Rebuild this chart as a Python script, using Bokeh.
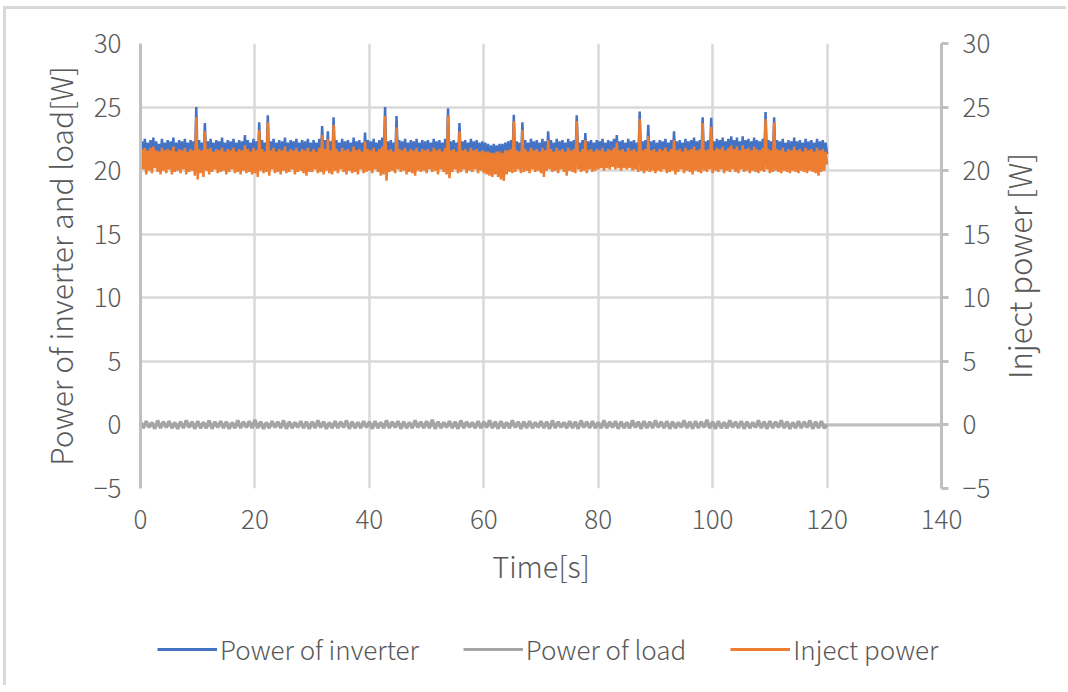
import math
from bokeh.plotting import figure
from bokeh.layouts import column, row
from bokeh.models import Range1d, LinearAxis, FixedTicker, Span, Legend, LegendItem, Label
from bokeh.embed import file_html
from bokeh.resources import INLINE

inverter = [
    20.8, 22.3, 20.5, 22.5, 21.0, 22.2, 20.6, 22.4, 20.9, 22.6, 20.4, 22.3, 20.7, 22.1, 21.1, 22.5, 20.5, 22.2, 20.8, 22.4,
    20.6, 22.3, 20.9, 22.6, 20.4, 22.2, 20.7, 22.4, 21.0, 22.3, 20.5, 22.5, 20.8, 22.2, 20.6, 22.4, 20.9, 22.3, 20.5, 25.0,
    20.3, 22.4, 20.7, 22.2, 20.6, 23.75, 20.9, 22.3, 20.5, 22.5, 20.8, 22.2, 20.4, 22.4, 21.0, 22.3, 20.6, 22.6, 20.7, 22.2,
    20.5, 22.4, 20.9, 22.3, 20.6, 22.5, 20.4, 22.2, 20.8, 22.4, 20.6, 22.3, 20.7, 22.8, 20.5, 22.4, 20.9, 22.2, 20.6, 22.5,
    20.5, 22.3, 20.4, 23.8, 20.7, 22.4, 20.8, 22.2, 20.6, 24.35, 20.5, 22.3, 20.9, 22.5, 20.6, 22.2, 20.7, 22.4, 20.4, 22.3,
    20.8, 22.6, 20.5, 22.2, 20.7, 22.4, 20.9, 22.3, 20.6, 22.5, 20.5, 22.2, 20.8, 22.4, 20.6, 22.3, 20.4, 22.5, 20.7, 22.2,
    20.6, 22.4, 20.8, 22.2, 20.5, 22.5, 20.7, 23.5, 20.6, 22.4, 20.9, 23.1, 20.5, 22.3, 20.6, 24.2, 20.7, 22.4, 20.5, 22.2,
    20.8, 22.5, 20.6, 22.3, 20.4, 22.4, 20.9, 22.2, 20.6, 22.6, 20.7, 22.3, 20.5, 22.4, 20.8, 22.2, 20.6, 23.0, 20.5, 22.4,
    20.7, 22.3, 20.5, 22.5, 20.8, 22.2, 20.6, 22.4, 20.4, 22.6, 20.5, 25.0, 20.2, 22.3, 20.7, 22.4, 20.6, 22.2, 20.5, 24.3,
    20.8, 22.4, 20.6, 22.3, 20.9, 22.5, 20.5, 22.2, 20.7, 22.4, 20.6, 22.3, 20.4, 22.5, 20.8, 22.2, 20.6, 22.4, 20.7, 22.3,
    20.5, 22.4, 20.8, 22.2, 20.6, 22.5, 20.7, 22.3, 20.4, 22.4, 20.9, 22.2, 20.6, 22.5, 20.5, 24.9, 20.7, 22.3, 20.6, 22.4,
    20.8, 22.2, 20.5, 23.75, 20.6, 22.3, 20.9, 22.4, 20.5, 22.2, 20.7, 22.5, 20.6, 22.3, 20.8, 22.4, 20.5, 22.2, 20.7, 22.3,
    20.5, 22.2, 20.4, 22.1, 20.3, 22.0, 20.2, 22.1, 20.4, 22.0, 20.3, 22.1, 20.5, 22.1, 20.6, 22.2, 20.5, 22.3, 20.7, 22.4,
    20.6, 24.4, 20.5, 22.3, 20.8, 22.2, 20.6, 23.8, 20.5, 22.4, 20.7, 22.2, 20.6, 22.5, 20.8, 22.3, 20.5, 22.4, 20.7, 22.2,
    20.4, 22.5, 20.6, 22.3, 20.5, 23.1, 20.8, 22.4, 20.6, 22.2, 20.7, 22.5, 20.5, 22.3, 20.9, 22.4, 20.6, 22.2, 20.5, 22.5,
    20.7, 22.3, 20.6, 22.4, 20.5, 24.35, 20.8, 22.2, 20.6, 22.4, 20.7, 22.95, 20.5, 22.3, 20.8, 22.4, 20.6, 22.2, 20.7, 22.4,
    20.6, 22.3, 20.8, 22.5, 20.5, 22.2, 20.7, 22.4, 20.6, 22.3, 20.9, 22.5, 20.7, 22.8, 20.6, 22.3, 20.8, 22.4, 20.5, 22.2,
    20.7, 22.5, 20.6, 22.3, 20.8, 22.4, 20.5, 22.2, 20.6, 24.65, 20.7, 22.3, 20.5, 22.4, 20.8, 23.6, 20.6, 22.3, 20.7, 22.4,
    20.5, 22.2, 20.8, 22.4, 20.6, 22.3, 20.7, 22.5, 20.5, 22.2, 20.9, 22.4, 20.6, 23.1, 20.7, 22.3, 20.5, 22.4, 20.8, 22.2,
    20.6, 22.5, 20.7, 22.3, 20.5, 22.4, 20.8, 22.6, 20.6, 22.3, 20.7, 22.4, 20.5, 24.2, 20.6, 22.3, 20.8, 22.4, 20.6, 24.15,
    20.5, 22.3, 20.8, 22.5, 20.6, 22.4, 20.7, 22.6, 20.5, 22.3, 20.9, 22.5, 20.6, 22.7, 20.8, 22.4, 20.7, 22.6, 20.5, 22.3,
    20.8, 22.7, 20.6, 22.4, 20.7, 22.5, 20.5, 22.3, 20.8, 22.6, 20.6, 22.4, 20.7, 22.3, 20.5, 22.5, 20.6, 24.6, 20.8, 22.4,
    20.6, 22.3, 20.5, 24.2, 20.7, 22.4, 20.6, 22.3, 20.8, 22.5, 20.5, 22.2, 20.7, 22.4, 20.6, 22.3, 20.8, 22.6, 20.5, 22.3,
    20.7, 22.4, 20.6, 22.2, 20.8, 22.5, 20.5, 22.3, 20.7, 22.4, 20.6, 22.2, 20.8, 22.5, 20.5, 22.3, 20.6, 22.4, 20.7, 22.2,
    21.3,
]
inject = [
    19.9, 21.7, 20.1, 21.8, 19.7, 21.6, 20.0, 21.8, 19.8, 21.9, 20.2, 21.6, 19.9, 21.5, 19.7, 21.8, 20.0, 21.6, 19.8, 21.7,
    20.1, 21.6, 19.7, 21.9, 19.9, 21.5, 20.0, 21.7, 19.8, 21.6, 20.1, 21.8, 19.7, 21.5, 19.9, 21.7, 20.0, 21.6, 19.6, 24.2,
    19.3, 21.7, 19.8, 21.6, 19.5, 23.1, 20.0, 21.7, 19.7, 21.8, 19.9, 21.5, 20.1, 21.7, 19.8, 21.6, 19.9, 21.8, 20.0, 21.5,
    19.7, 21.7, 19.9, 21.6, 20.1, 21.8, 19.8, 21.5, 19.9, 21.7, 19.7, 21.6, 20.0, 22.0, 19.8, 21.7, 19.9, 21.5, 19.7, 21.8,
    19.8, 21.6, 19.5, 23.2, 20.0, 21.7, 19.8, 21.5, 19.9, 23.8, 19.6, 21.6, 20.1, 21.8, 19.8, 21.5, 19.9, 21.7, 19.7, 21.6,
    20.0, 21.9, 19.8, 21.5, 19.9, 21.7, 20.1, 21.6, 19.7, 21.8, 19.9, 21.5, 20.0, 21.7, 19.8, 21.6, 19.6, 21.8, 19.9, 21.5,
    19.9, 21.7, 20.1, 21.5, 19.8, 21.8, 19.9, 22.8, 19.7, 21.7, 20.0, 22.5, 19.8, 21.6, 19.7, 23.6, 20.0, 21.7, 19.8, 21.5,
    20.1, 21.8, 19.9, 21.6, 19.7, 21.7, 20.0, 21.5, 19.8, 21.9, 19.9, 21.6, 19.7, 21.7, 20.1, 21.5, 19.8, 22.3, 19.9, 21.7,
    20.0, 21.6, 19.8, 21.8, 20.1, 21.5, 19.9, 21.7, 19.6, 21.9, 19.7, 24.3, 19.2, 21.6, 19.9, 21.7, 20.0, 21.5, 19.8, 23.4,
    20.1, 21.7, 19.9, 21.6, 20.0, 21.8, 19.7, 21.5, 19.9, 21.7, 19.8, 21.6, 19.6, 21.8, 20.0, 21.5, 19.9, 21.7, 20.0, 21.6,
    19.8, 21.7, 20.1, 21.5, 19.9, 21.8, 20.0, 21.6, 19.7, 21.7, 20.1, 21.5, 19.9, 21.8, 19.7, 24.35, 19.4, 21.6, 19.9, 21.7,
    20.1, 21.5, 19.8, 23.1, 19.9, 21.6, 20.1, 21.7, 19.8, 21.5, 20.0, 21.8, 19.9, 21.6, 20.1, 21.7, 19.8, 21.5, 20.0, 21.6,
    19.8, 21.5, 19.7, 21.5, 19.6, 21.4, 19.5, 21.4, 19.7, 21.5, 19.5, 21.5, 19.3, 21.4, 19.2, 21.6, 19.7, 21.6, 19.9, 21.7,
    19.8, 23.9, 19.9, 21.6, 20.1, 21.5, 19.8, 23.2, 19.9, 21.7, 20.0, 21.5, 19.8, 21.8, 20.1, 21.6, 19.9, 21.7, 20.0, 21.5,
    19.8, 21.8, 19.5, 21.6, 20.0, 22.4, 20.1, 21.7, 19.9, 21.5, 20.0, 21.8, 19.8, 21.6, 20.1, 21.7, 19.9, 21.5, 19.6, 21.8,
    20.0, 21.6, 19.9, 21.7, 19.8, 23.9, 20.1, 21.5, 19.9, 21.7, 20.0, 22.4, 19.8, 21.6, 20.1, 21.7, 19.9, 21.5, 20.0, 21.7,
    20.1, 21.6, 20.2, 21.8, 20.0, 21.5, 20.2, 21.7, 20.1, 21.6, 20.3, 21.8, 20.1, 22.2, 20.2, 21.6, 20.0, 21.7, 20.2, 21.5,
    20.1, 21.8, 20.2, 21.6, 20.0, 21.7, 20.1, 21.5, 19.9, 24.05, 20.0, 21.6, 19.8, 21.7, 20.0, 22.7, 19.9, 21.6, 20.0, 21.7,
    19.8, 21.5, 20.0, 21.7, 19.9, 21.6, 20.1, 21.8, 19.8, 21.5, 19.9, 21.7, 20.0, 22.4, 19.7, 21.6, 19.9, 21.7, 20.1, 21.5,
    19.8, 21.8, 20.0, 21.6, 19.9, 21.7, 19.7, 21.9, 20.0, 21.6, 19.9, 21.7, 19.8, 23.75, 20.0, 21.6, 19.9, 21.7, 20.1, 23.45,
    19.8, 21.6, 20.0, 21.8, 19.9, 21.7, 20.1, 21.9, 19.8, 21.6, 20.0, 21.8, 19.9, 22.0, 20.1, 21.7, 19.9, 21.9, 19.8, 21.6,
    20.1, 22.0, 19.9, 21.7, 20.0, 21.8, 19.8, 21.6, 20.0, 21.9, 19.9, 21.7, 19.8, 21.6, 20.0, 21.8, 19.9, 24.05, 20.1, 21.7,
    19.8, 21.6, 19.9, 23.8, 20.0, 21.7, 19.9, 21.6, 19.8, 21.8, 20.0, 21.5, 19.9, 21.7, 19.8, 21.6, 20.0, 21.9, 19.9, 21.6,
    19.8, 21.7, 20.0, 21.5, 19.9, 21.8, 19.8, 21.6, 20.0, 21.7, 19.9, 21.5, 19.8, 21.8, 19.6, 21.6, 19.9, 21.7, 20.0, 21.5,
    20.5,
]
load = [
    0.25, -0.25, 0.3, -0.2, 0.2, -0.3, 0.35, -0.25, 0.25, -0.2, 0.3, -0.25, 0.2, -0.3, 0.25, -0.25, 0.35, -0.2, 0.25, -0.3,
    0.3, -0.25, 0.2, -0.25, 0.35, -0.3, 0.25, -0.2, 0.3, -0.25, 0.25, -0.3, 0.2, -0.25, 0.35, -0.25, 0.25, -0.2, 0.3, -0.25,
    0.4, -0.25, 0.25, -0.3, 0.2, -0.25, 0.3, -0.2, 0.25, -0.25, 0.35, -0.3, 0.25, -0.25, 0.2, -0.2, 0.3, -0.25, 0.25, -0.3,
    0.25, -0.25, 0.35, -0.2, 0.25, -0.3, 0.2, -0.25, 0.3, -0.25, 0.25, -0.2, 0.35, -0.3, 0.25, -0.25, 0.2, -0.25, 0.3, -0.2,
    0.25, -0.3, 0.3, -0.25, 0.2, -0.25, 0.35, -0.25, 0.25, -0.2, 0.3, -0.3, 0.25, -0.25, 0.2, -0.25, 0.35, -0.2, 0.25, -0.25,
    0.3, -0.25, 0.4, -0.3, 0.25, -0.25, 0.2, -0.2, 0.3, -0.25, 0.25, -0.3, 0.35, -0.25, 0.25, -0.2, 0.2, -0.25, 0.3, -0.25,
    0.25, -0.2, 0.35, -0.25, 0.25, -0.3, 0.3, -0.25, 0.2, -0.25, 0.35, -0.2, 0.25, -0.3, 0.25, -0.25, 0.3, -0.25, 0.2, -0.2,
    0.3, -0.25, 0.25, -0.3, 0.35, -0.25, 0.25, -0.2, 0.2, -0.25, 0.3, -0.25, 0.25, -0.3, 0.35, -0.2, 0.25, -0.25, 0.3, -0.25,
    0.2, -0.25, 0.35, -0.25, 0.25, -0.2, 0.3, -0.3, 0.25, -0.25, 0.2, -0.25, 0.35, -0.2, 0.25, -0.3, 0.3, -0.25, 0.25, -0.25,
    0.35, -0.2, 0.25, -0.25, 0.3, -0.3, 0.25, -0.25, 0.2, -0.2, 0.35, -0.25, 0.25, -0.3, 0.3, -0.25, 0.25, -0.2, 0.4, -0.25,
    0.25, -0.3, 0.3, -0.25, 0.2, -0.25, 0.35, -0.2, 0.25, -0.25, 0.3, -0.3, 0.25, -0.25, 0.2, -0.2, 0.35, -0.25, 0.25, -0.3,
    0.3, -0.25, 0.25, -0.2, 0.35, -0.25, 0.25, -0.3, 0.2, -0.25, 0.3, -0.25, 0.25, -0.2, 0.35, -0.3, 0.25, -0.25, 0.3, -0.25,
    0.0,
]
t_inverter = [0.25 * i for i in range(len(inverter))]
t_inject = [0.25 * i for i in range(len(inject))]
t_load = [0.5 * i for i in range(len(load))]

x_ticks = [0, 20, 40, 60, 80, 100, 120, 140]
y_ticks = [-5, 0, 5, 10, 15, 20, 25, 30]
series_names = ["Power of inverter", "Power of load", "Inject power"]
series_colors = ["#4472C4", "#A5A5A5", "#ED7D31"]
x_title = "Time[s]"
y_left_title = "Power of inverter and load[W]"
y_right_title = "Inject power [W]"

FONT = "Noto Sans CJK JP Light, Noto Sans CJK JP"
TXT = "#595959"
GRID = "#D9D9D9"
AXIS = "#BFBFBF"

TOTAL_W = 1066
MAIN_W = 995
SIDE_W = TOTAL_W - MAIN_W
MAIN_H = 615
LEG_H = 70

# ---------------- main chart ----------------
p = figure(width=MAIN_W, height=MAIN_H, output_backend="svg", toolbar_location=None,
           x_range=Range1d(0, 140), y_range=Range1d(-5, 30),
           min_border_left=140, min_border_right=MAIN_W - 941, min_border_top=43,
           min_border_bottom=MAIN_H - 488)
p.extra_y_ranges = {"inj": Range1d(-5, 30)}
p.outline_line_color = None
p.border_fill_alpha = 0
p.background_fill_alpha = 0

p.xgrid.ticker = FixedTicker(ticks=x_ticks)
p.ygrid.ticker = FixedTicker(ticks=y_ticks)
for g in (p.xgrid[0], p.ygrid[0]):
    g.grid_line_color = GRID
    g.grid_line_width = 2.5

# horizontal axis line crossing at y = 0
p.add_layout(Span(location=0, dimension="width", line_color=AXIS, line_width=3, level="underlay"))

ya = p.yaxis[0]
ya.ticker = FixedTicker(ticks=y_ticks)
ya.axis_line_color = AXIS
ya.axis_line_width = 3
ya.major_tick_line_color = None
ya.minor_tick_line_color = None
ya.major_label_standoff = 13
ya.major_label_text_font = FONT
ya.major_label_text_font_size = "26px"
ya.major_label_text_color = TXT
ya.axis_label = y_left_title
ya.axis_label_text_font = FONT
ya.axis_label_text_font_size = "30px"
ya.axis_label_text_font_style = "normal"
ya.axis_label_text_color = TXT
ya.axis_label_standoff = 9

xa = p.xaxis[0]
xa.ticker = FixedTicker(ticks=x_ticks)
xa.axis_line_color = None
xa.major_tick_line_color = None
xa.minor_tick_line_color = None
xa.major_label_standoff = 15
xa.major_label_text_font = FONT
xa.major_label_text_font_size = "26px"
xa.major_label_text_color = TXT
xa.axis_label = x_title
xa.axis_label_text_font = FONT
xa.axis_label_text_font_size = "29px"
xa.axis_label_text_font_style = "normal"
xa.axis_label_text_color = TXT
xa.axis_label_standoff = 12

ra = LinearAxis(y_range_name="inj", ticker=FixedTicker(ticks=y_ticks))
ra.axis_line_color = AXIS
ra.axis_line_width = 3
ra.major_tick_line_color = AXIS
ra.major_tick_line_width = 3
ra.major_tick_out = 7
ra.major_tick_in = 0
ra.minor_tick_line_color = None
ra.major_label_standoff = 14
ra.major_label_text_font = FONT
ra.major_label_text_font_size = "26px"
ra.major_label_text_color = TXT
p.add_layout(ra, "right")

p.line(t_inverter, inverter, line_color=series_colors[0], line_width=2.5)
p.line(t_load, load, line_color=series_colors[1], line_width=3.5)
p.line(t_inject, inject, line_color=series_colors[2], line_width=2.5, y_range_name="inj")

# ---------------- right strip: secondary axis title (reads bottom to top) ----------------
pr = figure(width=SIDE_W, height=MAIN_H, output_backend="svg", toolbar_location=None,
            x_range=Range1d(0, SIDE_W), y_range=Range1d(-5, 30),
            x_axis_location=None, y_axis_location=None,
            min_border_left=0, min_border_right=0, min_border_top=43,
            min_border_bottom=MAIN_H - 488)
pr.outline_line_color = None
pr.grid.visible = False
pr.border_fill_alpha = 0
pr.background_fill_alpha = 0
pr.add_layout(Label(x=23, y=12.5, text=y_right_title, angle=math.pi / 2,
                    text_align="center", text_baseline="middle",
                    text_font=FONT, text_font_size="31px", text_color=TXT))

# ---------------- bottom strip: legend ----------------
pl = figure(width=TOTAL_W, height=LEG_H, output_backend="svg", toolbar_location=None,
            x_range=Range1d(0, 1), y_range=Range1d(100, 101),
            x_axis_location=None, y_axis_location=None,
            min_border_left=140, min_border_right=TOTAL_W - 941, min_border_top=0, min_border_bottom=0)
pl.outline_line_color = None
pl.grid.visible = False
pl.border_fill_alpha = 0
pl.background_fill_alpha = 0
swatches = [
    pl.line(t_inverter, inverter, line_color=series_colors[0], line_width=3),
    pl.line(t_load, load, line_color=series_colors[1], line_width=3),
    pl.line(t_inject, inject, line_color=series_colors[2], line_width=3),
]
legend = Legend(items=[LegendItem(label=n, renderers=[r]) for n, r in zip(series_names, swatches)],
                location=(17, 18), orientation="horizontal",
                glyph_width=60, glyph_height=20, label_standoff=3, spacing=44,
                padding=0, margin=0, border_line_alpha=0, background_fill_alpha=0,
                label_text_font=FONT, label_text_font_size="26px", label_text_color=TXT)
pl.add_layout(legend)

layout = column(row(p, pr, spacing=0), pl, spacing=0)
layout.styles = {"box-shadow": "inset 3px 6px 0 0 #ffffff, inset 6px 9px 0 0 #D9D9D9"}
try:
    from bokeh.models import GlobalInlineStyleSheet
    layout.stylesheets = [GlobalInlineStyleSheet(css="html, body { overflow: hidden; margin: 0; }")]
except Exception:
    pass

open("out.html", "w").write(file_html(layout, INLINE))
